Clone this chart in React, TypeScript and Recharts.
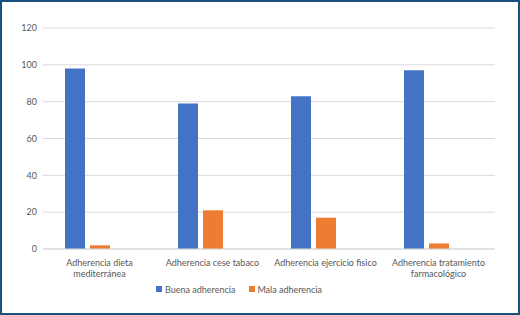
import React from "react";
import { Bar, BarChart, CartesianGrid, Legend, XAxis, YAxis } from "recharts";

const categories = [
  "Adherencia dieta mediterránea",
  "Adherencia cese tabaco",
  "Adherencia ejercicio fisico",
  "Adherencia tratamiento farmacológico",
];
const buenaAdherencia = [98, 79, 83, 97];
const malaAdherencia = [2, 21, 17, 3];
// empty third column of the source sheet, keeps the clusters offset to the left
const emptySeries = [null, null, null, null];
const yTicks = [0, 20, 40, 60, 80, 100, 120];

const data = categories.map((name, i) => ({
  name,
  buena: buenaAdherencia[i],
  mala: malaAdherencia[i],
  empty: emptySeries[i],
}));

const FONT = "Lato, 'Open Sans', sans-serif";
const TEXT_COLOR = "#595959";
const MAX_CHARS = 27;

// greedy word wrap by character count
const wrapLabel = (label: string) => {
  const lines: string[] = [];
  let current = "";
  label.split(" ").forEach((word) => {
    const next = current ? `${current} ${word}` : word;
    if (next.length > MAX_CHARS && current) {
      lines.push(current);
      current = word;
    } else {
      current = next;
    }
  });
  if (current) lines.push(current);
  return lines;
};

const CategoryTick = (props: any) => {
  const { x, y, payload } = props;
  const lines = wrapLabel(String(payload.value));
  return (
    <text
      x={x}
      y={y + 15}
      textAnchor="middle"
      fontSize={9}
      fontFamily={FONT}
      fill={TEXT_COLOR}
    >
      {lines.map((line, i) => (
        <tspan key={i} x={x} dy={i === 0 ? 0 : 11}>
          {line}
        </tspan>
      ))}
    </text>
  );
};

const renderLegend = () => (
  <div
    style={{
      display: "flex",
      alignItems: "center",
      paddingLeft: 154,
      height: 12,
      fontFamily: FONT,
      fontSize: 9,
      color: TEXT_COLOR,
    }}
  >
    <span style={{ width: 6, height: 6, background: "#4472C4", marginRight: 3 }} />
    <span style={{ marginRight: 14 }}>Buena adherencia</span>
    <span style={{ width: 6, height: 6, background: "#ED7D31", marginRight: 2 }} />
    <span>Mala adherencia</span>
  </div>
);

export default function App() {
  return (
    <div
      style={{
        position: "absolute",
        left: 0,
        top: 0,
        width: 520,
        height: 315,
        boxSizing: "border-box",
        border: "2px solid #1B4F7E",
        background: "#fff",
      }}
    >
      <BarChart
        width={516}
        height={311}
        data={data}
        margin={{ top: 26, right: 23, left: 0, bottom: 18 }}
        barSize={20}
        barGap={5}
      >
        <CartesianGrid vertical={false} stroke="#d9d9d9" />
        <XAxis
          dataKey="name"
          height={34}
          tickLine={false}
          tickSize={0}
          axisLine={{ stroke: "#d9d9d9" }}
          tick={<CategoryTick />}
          interval={0}
        />
        <YAxis
          width={41}
          domain={[0, 120]}
          ticks={yTicks}
          tickLine={false}
          axisLine={false}
          tickSize={0}
          tickMargin={6}
          tick={{ fontSize: 9, fontFamily: FONT, fill: TEXT_COLOR }}
        />
        <Legend verticalAlign="bottom" height={12} content={renderLegend} />
        <Bar dataKey="buena" name="Buena adherencia" fill="#4472C4" isAnimationActive={false} />
        <Bar dataKey="mala" name="Mala adherencia" fill="#ED7D31" isAnimationActive={false} />
        <Bar dataKey="empty" legendType="none" fill="#A5A5A5" isAnimationActive={false} />
      </BarChart>
    </div>
  );
}
